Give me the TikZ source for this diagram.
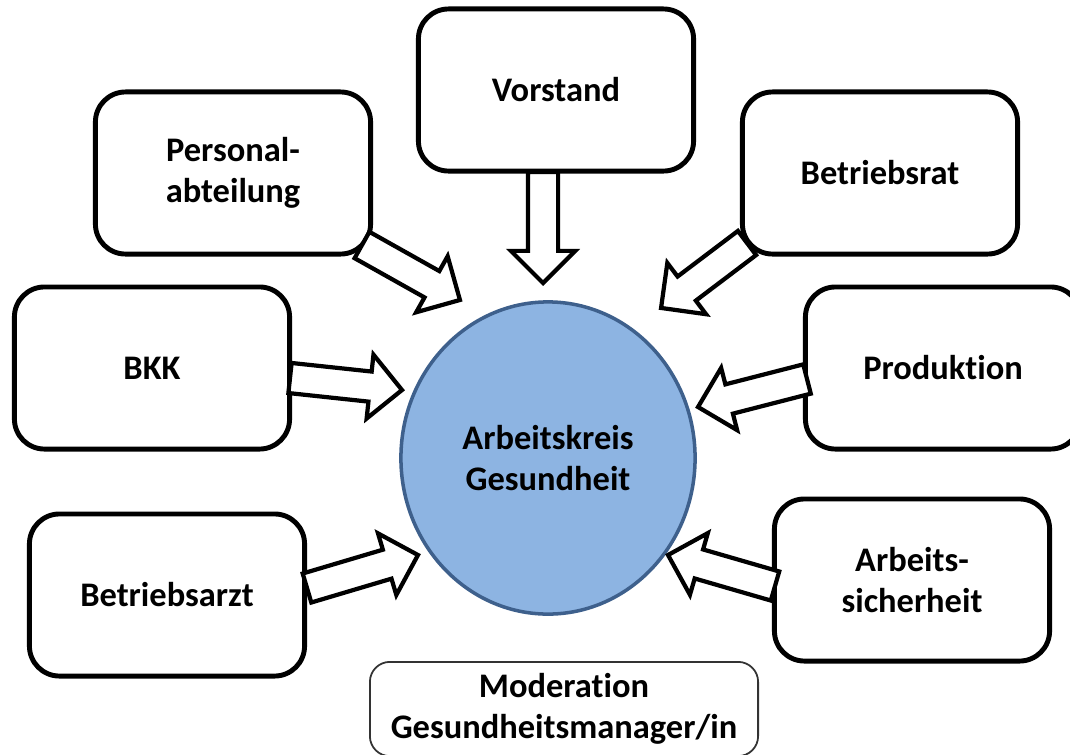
\documentclass[tikz,border=0pt]{standalone}
\usepackage{fontspec}
\setmainfont{Carlito}[Ligatures=NoCommon]
\usetikzlibrary{shapes.geometric,shapes.arrows,calc}
\definecolor{kreisfill}{RGB}{141,180,226}
\definecolor{kreisrand}{RGB}{62,96,140}
\tikzset{
  akbox/.style = {align=center, font=\fontsize{9.8}{11.6}\selectfont\bfseries,
    rounded corners=0.3cm, draw=black, line width=1.4pt, fill=white,
    minimum width=2.75cm, minimum height=1.62cm},% Kasten
  ak_mod/.style = {akbox, line width=0.5pt, draw=black!80,
    rounded corners=0.2cm, minimum width=3.88cm, minimum height=0.92cm},% Moderation
  ak_kreis/.style = {ellipse, align=center, font=\fontsize{9.8}{11.6}\selectfont\bfseries,
    draw=kreisrand, fill=kreisfill, line width=1pt,
    minimum width=2.94cm, minimum height=3.12cm},% Arbeitskreis
  ak_pfeil/.style = {single arrow, draw=black, fill=white, line width=1.2pt,
    inner xsep=0pt, inner ysep=0.13cm, minimum width=0.6cm, outer sep=0pt,
    single arrow head extend=0.17cm, anchor=tail}% Blockpfeil
}
\newcommand{\akpfeil}[2]{%
  \path let \p1=($(#2)-(#1)$), \n1={atan2(\y1,\x1)}, \n2={veclen(\x1,\y1)} in
    (#1) node[ak_pfeil, rotate=\n1, minimum height=\n2] {};}
\begin{document}
\begin{tikzpicture}[x=0.01cm,y=-0.01cm]
\useasboundingbox (0,0) rectangle (1070,754);
\node [ak_kreis] (ak) at (548,458) {Arbeitskreis\\Gesundheit};
\node [akbox] (vorstand) at (556,90) {Vorstand};
\node [akbox] (personal) at (233,173) {Personal-\\abteilung};
\node [akbox] (betriebsrat) at (880,173) {Betriebsrat};
\node [akbox] (bkk) at (152,368) {BKK};
\node [akbox] (produktion) at (943,368) {Produktion};
\node [akbox] (arzt) at (167,595) {Betriebsarzt};
\node [akbox] (sicherheit) at (912,580) {Arbeits-\\sicherheit};
\node [ak_mod] (moderation) at (564,709) {Moderation\\Gesundheitsmanager/in};
% Pfeile zum Arbeitskreis
\coordinate (v1) at (543,172); \coordinate (v2) at (543,283);
\coordinate (p1) at (362,245); \coordinate (p2) at (460,300);
\coordinate (r1) at (747,243); \coordinate (r2) at (661,308);
\coordinate (b1) at (290,378); \coordinate (b2) at (402,390);
\coordinate (d1) at (807,379); \coordinate (d2) at (698,407);
\coordinate (a1) at (307,588); \coordinate (a2) at (418,555);
\coordinate (s1) at (775,586); \coordinate (s2) at (668,555);
\foreach \von/\nach in {v1/v2,p1/p2,r1/r2,b1/b2,d1/d2,a1/a2,s1/s2}
  {\akpfeil{\von}{\nach}}
\end{tikzpicture}
\end{document}
